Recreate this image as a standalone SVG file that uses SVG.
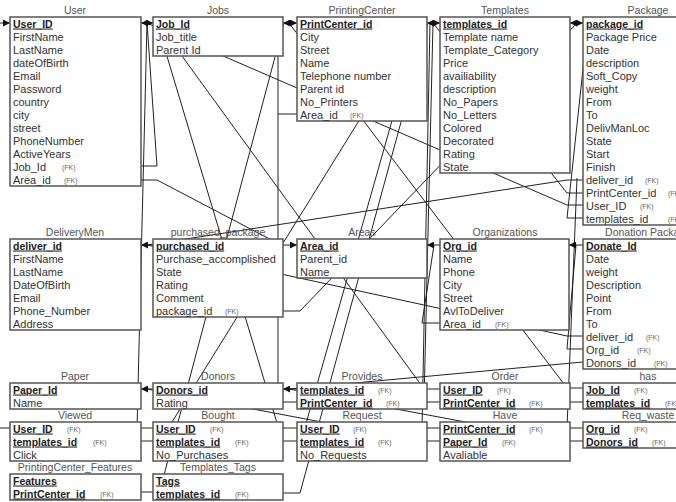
<svg xmlns="http://www.w3.org/2000/svg" width="676" height="502" viewBox="0 0 676 502">
<style>
.bx{fill:#fff;stroke:#555;stroke-width:1.5}
.t{font-family:"Liberation Sans",Arial,sans-serif;font-size:11px;fill:#333}
.pk{font-family:"Liberation Sans",Arial,sans-serif;font-size:10.5px;font-weight:bold;fill:#222;text-decoration:underline}
.fk{font-family:"Liberation Sans",Arial,sans-serif;font-size:7px;fill:#666}
.ti{font-family:"Liberation Sans",Arial,sans-serif;font-size:10.5px;fill:#555;text-anchor:middle}
.c{fill:none;stroke:#222;stroke-width:1}
.a{fill:none;stroke:#222;stroke-width:1;marker-end:url(#ah)}
</style>
<defs>
<marker id="ah" viewBox="0 0 7 7" refX="7" refY="3.5" markerWidth="7" markerHeight="7" markerUnits="userSpaceOnUse" orient="auto"><path d="M0,0 L7,3.5 L0,7 z" fill="#111"/></marker>
</defs>
<rect width="676" height="502" fill="#fff"/>
<g id="connectors">
<path class="c" d="M141,166 H157 L147,23"/>
<path class="c" d="M141,180 H157 L283,246"/>
<path class="c" d="M297,114 H278 V402 H297"/>
<path class="c" d="M278,114 V40"/>
<path class="c" d="M583,205 H567 L147,23"/>
<path class="c" d="M583,193 H567 L433,23"/>
<path class="c" d="M583,218 H567 L585,50"/>
<path class="c" d="M583,180 H567 L147,245"/>
<path class="c" d="M283,311 H300 L577,23"/>
<path class="c" d="M583,336 H567 L147,245"/>
<path class="c" d="M583,349 H567 L576,245"/>
<path class="c" d="M583,362 L289,389"/>
<path class="c" d="M440,323 H422 L434,245"/>
<path class="c" d="M583,388 H567 L289,23"/>
<path class="c" d="M583,402 H567"/>
<path class="c" d="M583,428 H567 L577,178"/>
<path class="c" d="M583,441 H567 L289,389"/>
<path class="c" d="M440,389 H424 L158,23"/>
<path class="c" d="M440,402 H424 L433,23"/>
<path class="c" d="M440,428 H422 L430,23"/>
<path class="c" d="M440,441 H422 L147,389"/>
<path class="c" d="M297,428 H278.5 L157,23"/>
<path class="c" d="M297,441 H283"/>
<path class="c" d="M301,441 L405,75"/>
<path class="c" d="M283,493 H300 L428,23"/>
<path class="c" d="M153,428 H137 L147,23"/>
<path class="c" d="M153,441 H138"/>
<path class="c" d="M141,441 H138"/>
<path class="c" d="M10,428 H-1 V23"/>
<path class="c" d="M141,492 H153"/>
<path class="c" d="M284,23 L160,490"/>
<path class="c" d="M365,111 L172,422"/>
<path class="c" d="M147,245 H153"/>
<path class="c" d="M434,245 H440"/>
<path class="c" d="M576,245 H583"/>
<path class="c" d="M147,389 H153"/>
<path class="c" d="M289,389 H297"/>
<path class="a" d="M-1,23 H10"/>
<path class="a" d="M147,23 H141"/>
<path class="a" d="M147,23 H153"/>
<path class="a" d="M289,23 H283"/>
<path class="a" d="M291,23 H297"/>
<path class="a" d="M433,23 H427"/>
<path class="a" d="M434,23 H440"/>
<path class="a" d="M576,23 H570"/>
<path class="a" d="M577,23 H583"/>
<path class="a" d="M147,245 H141"/>
<path class="a" d="M278,245 H297"/>
<path class="a" d="M434,245 H427"/>
<path class="a" d="M576,245 H569"/>
<path class="a" d="M147,389 H141"/>
<path class="a" d="M289,389 H283"/>
</g>
<g id="User"><text class="ti" x="75" y="14">User</text><rect class="bx" x="10" y="17" width="131" height="169"/>
<text class="pk" x="13" y="27.5">User_ID</text><text class="t" x="13" y="40.5">FirstName</text><text class="t" x="13" y="53.5">LastName</text><text class="t" x="13" y="66.5">dateOfBirth</text><text class="t" x="13" y="79.5">Email</text><text class="t" x="13" y="92.5">Password</text><text class="t" x="13" y="105.5">country</text><text class="t" x="13" y="118.5">city</text><text class="t" x="13" y="131.5">street</text><text class="t" x="13" y="144.5">PhoneNumber</text><text class="t" x="13" y="157.5">ActiveYears</text><text class="t" x="13" y="170.5">Job_Id</text><text class="fk" x="62" y="170">(FK)</text><text class="t" x="13" y="183.5">Area_id</text><text class="fk" x="64" y="183">(FK)</text></g>
<g id="Jobs"><text class="ti" x="218" y="14">Jobs</text><rect class="bx" x="153" y="17" width="130" height="39"/>
<text class="pk" x="156" y="27.5">Job_Id</text><text class="t" x="156" y="40.5">Job_title</text><text class="t" x="156" y="53.5">Parent Id</text></g>
<g id="PrintingCenter"><text class="ti" x="362" y="14">PrintingCenter</text><rect class="bx" x="297" y="17" width="130" height="104"/>
<text class="pk" x="300" y="27.5">PrintCenter_id</text><text class="t" x="300" y="40.5">City</text><text class="t" x="300" y="53.5">Street</text><text class="t" x="300" y="66.5">Name</text><text class="t" x="300" y="79.5">Telephone number</text><text class="t" x="300" y="92.5">Parent id</text><text class="t" x="300" y="105.5">No_Printers</text><text class="t" x="300" y="118.5">Area_id</text><text class="fk" x="350" y="118">(FK)</text></g>
<g id="Templates"><text class="ti" x="505" y="14">Templates</text><rect class="bx" x="440" y="17" width="130" height="156"/>
<text class="pk" x="443" y="27.5">templates_id</text><text class="t" x="443" y="40.5">Template name</text><text class="t" x="443" y="53.5">Template_Category</text><text class="t" x="443" y="66.5">Price</text><text class="t" x="443" y="79.5">availiability</text><text class="t" x="443" y="92.5">description</text><text class="t" x="443" y="105.5">No_Papers</text><text class="t" x="443" y="118.5">No_Letters</text><text class="t" x="443" y="131.5">Colored</text><text class="t" x="443" y="144.5">Decorated</text><text class="t" x="443" y="157.5">Rating</text><text class="t" x="443" y="170.5">State</text></g>
<g id="Package"><text class="ti" x="648" y="14">Package</text><rect class="bx" x="583" y="17" width="130" height="208"/>
<text class="pk" x="586" y="27.5">package_id</text><text class="t" x="586" y="40.5">Package Price</text><text class="t" x="586" y="53.5">Date</text><text class="t" x="586" y="66.5">description</text><text class="t" x="586" y="79.5">Soft_Copy</text><text class="t" x="586" y="92.5">weight</text><text class="t" x="586" y="105.5">From</text><text class="t" x="586" y="118.5">To</text><text class="t" x="586" y="131.5">DelivManLoc</text><text class="t" x="586" y="144.5">State</text><text class="t" x="586" y="157.5">Start</text><text class="t" x="586" y="170.5">Finish</text><text class="t" x="586" y="183.5">deliver_id</text><text class="fk" x="645" y="183">(FK)</text><text class="t" x="586" y="196.5">PrintCenter_id</text><text class="fk" x="668" y="196">(FK)</text><text class="t" x="586" y="209.5">User_ID</text><text class="fk" x="640" y="209">(FK)</text><text class="t" x="586" y="222.5">templates_id</text><text class="fk" x="668" y="222">(FK)</text></g>
<g id="DeliveryMen"><text class="ti" x="75" y="236">DeliveryMen</text><rect class="bx" x="10" y="239" width="131" height="91"/>
<text class="pk" x="13" y="249.5">deliver_id</text><text class="t" x="13" y="262.5">FirstName</text><text class="t" x="13" y="275.5">LastName</text><text class="t" x="13" y="288.5">DateOfBirth</text><text class="t" x="13" y="301.5">Email</text><text class="t" x="13" y="314.5">Phone_Number</text><text class="t" x="13" y="327.5">Address</text></g>
<g id="purchased_package"><text class="ti" x="218" y="236">purchased_package</text><rect class="bx" x="153" y="239" width="130" height="78"/>
<text class="pk" x="156" y="249.5">purchased_id</text><text class="t" x="156" y="262.5">Purchase_accomplished</text><text class="t" x="156" y="275.5">State</text><text class="t" x="156" y="288.5">Rating</text><text class="t" x="156" y="301.5">Comment</text><text class="t" x="156" y="314.5">package_id</text><text class="fk" x="225" y="314">(FK)</text></g>
<g id="Areas"><text class="ti" x="362" y="236">Areas</text><rect class="bx" x="297" y="239" width="130" height="39"/>
<text class="pk" x="300" y="249.5">Area_id</text><text class="t" x="300" y="262.5">Parent_id</text><text class="t" x="300" y="275.5">Name</text></g>
<g id="Organizations"><text class="ti" x="505" y="236">Organizations</text><rect class="bx" x="440" y="239" width="129" height="91"/>
<text class="pk" x="443" y="249.5">Org_id</text><text class="t" x="443" y="262.5">Name</text><text class="t" x="443" y="275.5">Phone</text><text class="t" x="443" y="288.5">City</text><text class="t" x="443" y="301.5">Street</text><text class="t" x="443" y="314.5">AvlToDeliver</text><text class="t" x="443" y="327.5">Area_id</text><text class="fk" x="495" y="327">(FK)</text></g>
<g id="DonationPackage"><text class="ti" x="648" y="236">Donation Package</text><rect class="bx" x="583" y="239" width="130" height="130"/>
<text class="pk" x="586" y="249.5">Donate_Id</text><text class="t" x="586" y="262.5">Date</text><text class="t" x="586" y="275.5">weight</text><text class="t" x="586" y="288.5">Description</text><text class="t" x="586" y="301.5">Point</text><text class="t" x="586" y="314.5">From</text><text class="t" x="586" y="327.5">To</text><text class="t" x="586" y="340.5">deliver_id</text><text class="fk" x="646" y="340">(FK)</text><text class="t" x="586" y="353.5">Org_id</text><text class="fk" x="637" y="353">(FK)</text><text class="t" x="586" y="366.5">Donors_id</text><text class="fk" x="654" y="366">(FK)</text></g>
<g id="Paper"><text class="ti" x="75" y="380">Paper</text><rect class="bx" x="10" y="383" width="131" height="26"/>
<text class="pk" x="13" y="393.5">Paper_Id</text><text class="t" x="13" y="406.5">Name</text></g>
<g id="Donors"><text class="ti" x="218" y="380">Donors</text><rect class="bx" x="153" y="383" width="130" height="26"/>
<text class="pk" x="156" y="393.5">Donors_id</text><text class="t" x="156" y="406.5">Rating</text></g>
<g id="Provides"><text class="ti" x="362" y="380">Provides</text><rect class="bx" x="297" y="383" width="130" height="26"/>
<text class="pk" x="300" y="393.5">templates_id</text><text class="fk" x="378" y="393">(FK)</text><text class="pk" x="300" y="406.5">PrintCenter_id</text><text class="fk" x="386" y="406">(FK)</text></g>
<g id="Order"><text class="ti" x="505" y="380">Order</text><rect class="bx" x="440" y="383" width="130" height="26"/>
<text class="pk" x="443" y="393.5">User_ID</text><text class="fk" x="497" y="393">(FK)</text><text class="pk" x="443" y="406.5">PrintCenter_id</text><text class="fk" x="529" y="406">(FK)</text></g>
<g id="has"><text class="ti" x="648" y="380">has</text><rect class="bx" x="583" y="383" width="130" height="26"/>
<text class="pk" x="586" y="393.5">Job_Id</text><text class="fk" x="634" y="393">(FK)</text><text class="pk" x="586" y="406.5">templates_id</text><text class="fk" x="665" y="406">(FK)</text></g>
<g id="Viewed"><text class="ti" x="75" y="419">Viewed</text><rect class="bx" x="10" y="422" width="131" height="39"/>
<text class="pk" x="13" y="432.5">User_ID</text><text class="fk" x="67" y="432">(FK)</text><text class="pk" x="13" y="445.5">templates_id</text><text class="fk" x="93" y="445">(FK)</text><text class="t" x="13" y="458.5">Click</text></g>
<g id="Bought"><text class="ti" x="218" y="419">Bought</text><rect class="bx" x="153" y="422" width="130" height="39"/>
<text class="pk" x="156" y="432.5">User_ID</text><text class="fk" x="210" y="432">(FK)</text><text class="pk" x="156" y="445.5">templates_id</text><text class="fk" x="235" y="445">(FK)</text><text class="t" x="156" y="458.5">No_Purchases</text></g>
<g id="Request"><text class="ti" x="362" y="419">Request</text><rect class="bx" x="297" y="422" width="130" height="39"/>
<text class="pk" x="300" y="432.5">User_ID</text><text class="fk" x="353" y="432">(FK)</text><text class="pk" x="300" y="445.5">templates_id</text><text class="fk" x="378" y="445">(FK)</text><text class="t" x="300" y="458.5">No_Requests</text></g>
<g id="Have"><text class="ti" x="505" y="419">Have</text><rect class="bx" x="440" y="422" width="130" height="39"/>
<text class="pk" x="443" y="432.5">PrintCenter_id</text><text class="fk" x="529" y="432">(FK)</text><text class="pk" x="443" y="445.5">Paper_Id</text><text class="fk" x="502" y="445">(FK)</text><text class="t" x="443" y="458.5">Avaliable</text></g>
<g id="Req_waste"><text class="ti" x="648" y="419">Req_waste</text><rect class="bx" x="583" y="422" width="130" height="26"/>
<text class="pk" x="586" y="432.5">Org_id</text><text class="fk" x="634" y="432">(FK)</text><text class="pk" x="586" y="445.5">Donors_id</text><text class="fk" x="652" y="445">(FK)</text></g>
<g id="PrintingCenter_Features"><text class="ti" x="75" y="471">PrintingCenter_Features</text><rect class="bx" x="10" y="474" width="131" height="26"/>
<text class="pk" x="13" y="484.5">Features</text><text class="pk" x="13" y="497.5">PrintCenter_id</text><text class="fk" x="100" y="497">(FK)</text></g>
<g id="Templates_Tags"><text class="ti" x="218" y="471">Templates_Tags</text><rect class="bx" x="153" y="474" width="130" height="26"/>
<text class="pk" x="156" y="484.5">Tags</text><text class="pk" x="156" y="497.5">templates_id</text><text class="fk" x="235" y="497">(FK)</text></g>
</svg>
